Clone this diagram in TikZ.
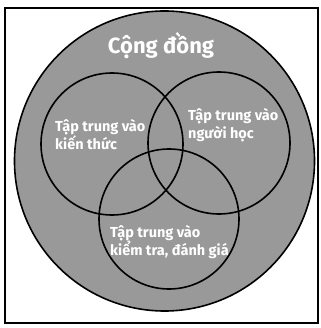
\documentclass[tikz,border=0pt]{standalone}
\usepackage{fontspec}
\setmainfont{Fira Sans}
\begin{document}
\begin{tikzpicture}[x=1pt,y=-1pt,
  ring/.style={circle,draw=black,line width=1.6pt,inner sep=0pt,minimum size=#1},
  lbl/.style={text=white,font=\bfseries\fontsize{14.5}{18}\selectfont,align=left,inner sep=0pt,anchor=west}]
\useasboundingbox (0,0) rectangle (320,328);
\node[draw=black,line width=1.2pt,minimum width=313pt,minimum height=315pt,inner sep=0pt] (frame) at (161.5,165.5) {};
\node[ring=300pt,fill=black!40] (outer) at (164.5,161) {};
\node[ring=142pt] (know) at (112,144) {};
\node[ring=142pt] (learner) at (219,143) {};
\node[ring=140pt] (assess) at (169,219) {};
\node[text=white,font=\bfseries\fontsize{22}{24}\selectfont] (cd) at (161,46) {Cộng đồng};
\node[lbl] (t1) at (55,135) {Tập trung vào\\kiến thức};
\node[lbl] (t2) at (188,125) {Tập trung vào\\người học};
\node[lbl] (t3) at (110,242) {Tập trung vào\\kiểm tra, đánh giá};
\end{tikzpicture}
\end{document}
